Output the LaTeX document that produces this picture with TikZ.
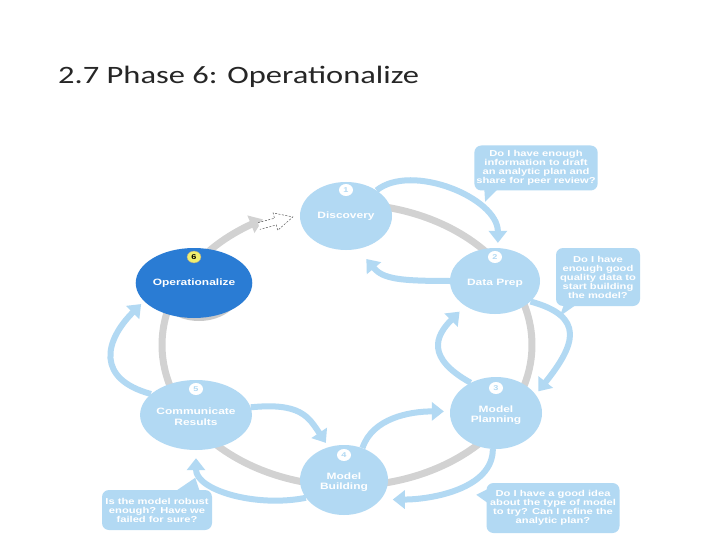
\documentclass[tikz,border=0pt]{standalone}
\usepackage{fontspec}
\usetikzlibrary{arrows.meta,shapes.geometric,calc}
\newfontfamily\titlefont[FakeStretch=1.3]{Carlito}
\newfontfamily\labfont[FakeStretch=1.3]{Liberation Sans}
\definecolor{bub}{RGB}{178,217,243}
\definecolor{opblue}{RGB}{42,124,212}
\definecolor{ringgray}{RGB}{210,210,210}
\definecolor{numyellow}{RGB}{240,238,110}
\begin{document}
\begin{tikzpicture}[x=1pt,y=-1pt,
  phase/.style={ellipse, fill=bub, minimum width=92pt, minimum height=68pt, inner sep=0pt,
    text=white, align=center, font=\labfont\bfseries\fontsize{9.2}{10.5}\selectfont},
  numc/.style={ellipse, fill=white, minimum width=14pt, minimum height=12pt, inner sep=0pt,
    font=\labfont\bfseries\fontsize{7}{7}\selectfont, text=bub},
  flow/.style={draw=bub, line width=6pt, -{Triangle[width=18pt,length=12pt]}},
  bubble/.style={fill=bub, rounded corners=7pt, text=white, align=center,
    font=\labfont\bfseries\fontsize{8.6}{9}\selectfont, inner sep=2pt},
]
\fill[white] (0,0) rectangle (720,540);
\useasboundingbox (0,0) rectangle (720,540);

% title
\node[anchor=base west, inner sep=0pt, text=black!85, font=\titlefont\fontsize{25}{30}\selectfont]
  (title) at (58,84) {2.7 Phase 6: Operationalize};

% gray ring
\draw[ringgray, line width=7pt, -{Triangle[width=18pt,length=13pt]}]
  plot[domain=-95:243, samples=120, smooth] ({347+185*cos(\x)},{345+141*sin(\x)});

% dashed outline arrow
\begin{scope}[shift={(259,226)}, rotate=15]
  \draw[black!65, line width=0.5pt, dash pattern=on 2pt off 1.5pt, fill=white]
    (0,-3.5) -- (17,-3.5) -- (17,-9) -- (35,0) -- (17,9) -- (17,3.5) -- (0,3.5);
\end{scope}

% phases
\node[phase] (disc) at (346,216) {Discovery};
\node[phase, minimum width=90pt, minimum height=66pt] (dp) at (495,281) {\\Data Prep};
\node[phase, minimum height=72pt] (mp) at (496,413) {\\Model\\Planning};
\node[phase, minimum width=88pt, minimum height=70pt] (mb) at (344,480) {\\Model\\Building};
\node[phase, minimum height=70pt] (cr) at (196,415) {\\Communicate\\Results};
\node[ellipse, fill=black!35, minimum width=88pt, minimum height=70pt, opacity=0.6] (opsh) at (199,286) {};
\node[phase, fill=opblue, minimum width=88pt, minimum height=70pt] (op) at (194,283) {Operationalize};

% numbers
\node[numc] (n1) at (346,190) {1};
\node[numc] (n2) at (495,257) {2};
\node[numc] (n3) at (496,388) {3};
\node[numc] (n4) at (344,455) {4};
\node[numc] (n5) at (196,389) {5};
\node[numc, fill=numyellow, draw=black!40, text=black] (n6) at (194,257) {6};

% flows
\draw[flow, shorten >=5pt] (disc.40) .. controls +(35,-28) and +(0,-50) .. (dp.85);
\draw[flow, shorten >=13pt] (dp.180) .. controls +(-50,0) and +(25,30) .. (disc.-70);
\draw[flow, shorten >=4pt] (dp.-30) .. controls +(55,15) and +(40,-50) .. (mp.25);
\draw[flow, shorten >=8pt] (mp.130) .. controls +(-45,-25) and +(-30,30) .. (dp.-140);
\draw[flow, shorten >=12pt] (mp.-95) .. controls +(0,40) and +(50,0) .. (mb.-28);
\draw[flow, shorten >=6pt] (mb.60) .. controls +(10,-30) and +(-40,0) .. (mp.178);
\draw[flow, shorten >=8pt] (mb.-155) .. controls +(-50,10) and +(0,40) .. (cr.-90);
\draw[flow, shorten >=5pt] (cr.8) .. controls +(50,-5) and +(-20,-30) .. (mb.115);
\draw[flow, shorten >=4pt] (cr.155) .. controls +(-55,-15) and +(-40,40) .. (op.-160);

% speech bubbles
\node[bubble, minimum width=123pt, minimum height=45pt] (b1) at (536,168)
  {Do I have enough\\information to draft\\an analytic plan and\\share for peer review?};
\fill[bub] ($(b1.south west)+(10,-4)$) -- ($(b1.south west)+(26,-4)$) -- ($(b1.south west)+(11,11)$) -- cycle;

\node[bubble, minimum width=84pt, minimum height=58pt] (b2) at (598,277)
  {Do I have\\enough good\\quality data to\\start building\\the model?};
\fill[bub] ($(b2.south west)+(9,-4)$) -- ($(b2.south west)+(24,-4)$) -- ($(b2.south west)+(4,10)$) -- cycle;

\node[bubble, minimum width=133pt, minimum height=50pt] (b3) at (553,508)
  {Do I have a good idea\\about the type of model\\to try? Can I refine the\\analytic plan?};
\fill[bub] ($(b3.north west)+(4,5)$) -- ($(b3.north west)+(4,22)$) -- ($(b3.north west)+(-10,12)$) -- cycle;

\node[bubble, minimum width=110pt, minimum height=40pt] (b4) at (157,510)
  {Is the model robust\\enough? Have we\\failed for sure?};
\fill[bub] ($(b4.north east)+(-39,3)$) -- ($(b4.north east)+(-12,3)$) -- ($(b4.north east)+(-17,-12)$) -- cycle;
\end{tikzpicture}
\end{document}
